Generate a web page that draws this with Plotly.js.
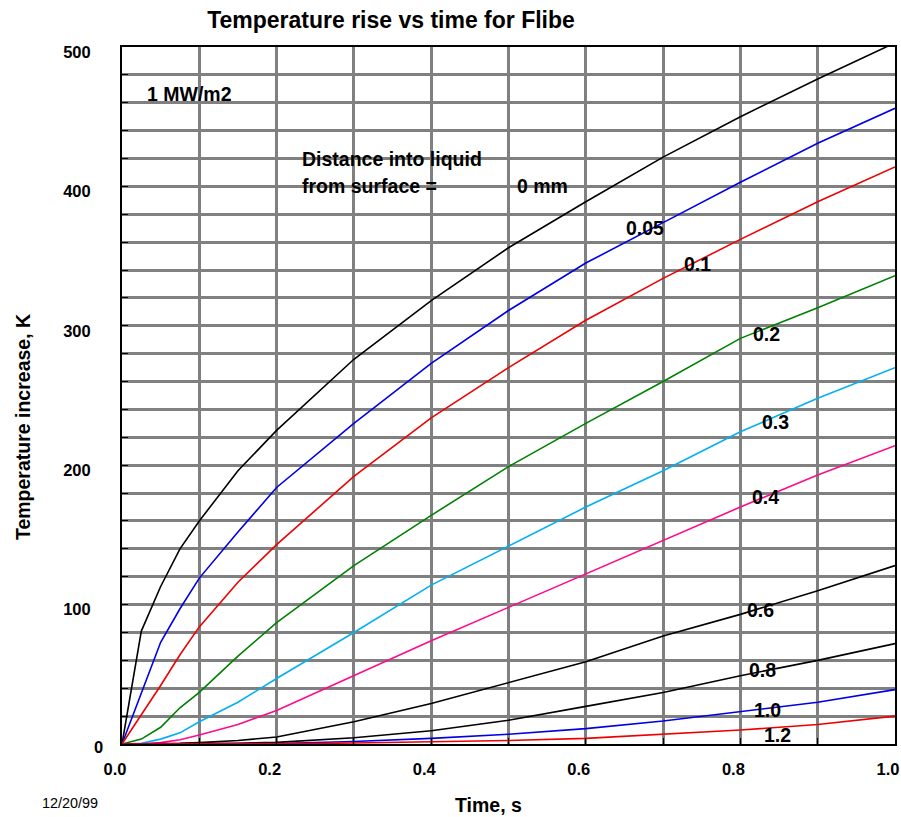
<!DOCTYPE html>
<html>
<head>
<meta charset="utf-8">
<script src="https://cdn.plot.ly/plotly-3.0.1.min.js"></script>
<style>html,body{margin:0;padding:0;background:#fff;}#chart{width:901px;height:817px;}</style>
</head>
<body>
<div id="chart"></div>
<script>
// Time, s
var time = [0, 0.025, 0.05, 0.075, 0.1, 0.15, 0.2, 0.3, 0.4, 0.5, 0.6, 0.7, 0.8, 0.9, 1.0];
// Temperature increase, K, at each distance into liquid
var d0mm   = [0, 81, 113, 140, 160, 196, 225, 276, 318, 356, 389, 421, 450, 477, 503];
var d005mm = [0, 37, 73, 97, 119, 152, 184, 230, 273, 311, 345, 374, 403, 431, 456];
var d01mm  = [0, 21, 42, 64, 84, 116, 143, 192, 234, 270, 304, 334, 362, 389, 414];
var d02mm  = [0, 3.5, 12, 26, 37, 63, 87, 128, 164, 199, 230, 260, 291, 313, 336];
var d03mm  = [0, 0.5, 3.5, 8, 16, 30, 47, 80, 114, 142, 170, 196, 224, 248, 270];
var d04mm  = [0, 0, 1, 3, 6.5, 14, 24, 49, 74, 98, 122, 146, 170, 193, 214];
var d06mm  = [0, 0, 0.2, 0.5, 1, 2.5, 5, 16, 29, 44, 59, 77.5, 93, 110, 128];
var d08mm  = [0, 0, 0, 0, 0.2, 0.5, 1.2, 4.5, 9.5, 17, 27, 37, 49, 60, 72];
var d10mm  = [0, 0, 0, 0, 0, 0.1, 0.4, 1.8, 4, 7, 11, 16.5, 23, 30, 39];
var d12mm  = [0, 0, 0, 0, 0, 0, 0.1, 0.7, 1.5, 2.5, 4, 7, 10, 14, 20];

var seriesNames = ['0 mm', '0.05', '0.1', '0.2', '0.3', '0.4', '0.6', '0.8', '1.0', '1.2'];
var seriesData = [d0mm, d005mm, d01mm, d02mm, d03mm, d04mm, d06mm, d08mm, d10mm, d12mm];
var seriesColors = ['#000000', '#0000e6', '#ee0000', '#008000', '#00b0f0', '#ff0a8c', '#000000', '#000000', '#0000e6', '#ee0000'];

var yTickVals = [100, 200, 300, 400, 500];
var yTickText = ['100', '200', '300', '400', '500'];
var xTickVals = [0, 0.2, 0.4, 0.6, 0.8, 1.0];
var xTickText = ['0.0', '0.2', '0.4', '0.6', '0.8', '1.0'];

// label positions (data coords) for curve labels
var labelX = [0.508, 0.649, 0.724, 0.814, 0.825, 0.812, 0.806, 0.809, 0.815, 0.828];
var labelY = [400, 370, 344, 294, 231, 177, 96, 53, 24.4, 6.5];

var sans = '"Liberation Sans", Arial, sans-serif';
var boldFont = {family: sans, size: 19.5, color: '#000', weight: 'bold'};

var traces = seriesData.map(function (d, i) {
  return {
    x: time, y: d, type: 'scatter', mode: 'lines', name: seriesNames[i],
    line: {color: seriesColors[i], width: 1.6}, hoverinfo: 'x+y'
  };
});

var annotations = seriesNames.map(function (n, i) {
  return {x: labelX[i], y: labelY[i], xref: 'x', yref: 'y', text: n, showarrow: false,
          xanchor: 'left', yanchor: 'middle', font: boldFont};
});
annotations.push({x: 0.030, y: 466, xref: 'x', yref: 'y', text: '1 MW/m2', showarrow: false,
  xanchor: 'left', yanchor: 'middle', font: boldFont});
annotations.push({x: 0.230, y: 420, xref: 'x', yref: 'y', text: 'Distance into liquid', showarrow: false,
  xanchor: 'left', yanchor: 'middle', font: boldFont});
annotations.push({x: 0.230, y: 400, xref: 'x', yref: 'y', text: 'from surface =', showarrow: false,
  xanchor: 'left', yanchor: 'middle', font: boldFont});
annotations.push({x: -0.022, y: 0, xref: 'paper', yref: 'y', text: '0', showarrow: false,
  xanchor: 'right', yanchor: 'middle', yshift: -3, font: {family: sans, size: 16.5, color: '#000', weight: 'bold'}});
annotations.push({x: -0.106, y: -0.0846, xref: 'paper', yref: 'paper', text: '12/20/99', showarrow: false,
  xanchor: 'left', yanchor: 'middle', font: {family: sans, size: 14.4, color: '#000'}});
// axis titles
annotations.push({x: 0.4735, y: -0.0875, xref: 'paper', yref: 'paper', text: 'Time, s', showarrow: false,
  xanchor: 'center', yanchor: 'middle', font: boldFont});
annotations.push({x: -0.128, y: 0.4548, xref: 'paper', yref: 'paper', text: 'Temperature increase, K', showarrow: false,
  textangle: -90, xanchor: 'center', yanchor: 'middle', font: boldFont});

var layout = {
  width: 901, height: 817,
  margin: {l: 122, r: 6, t: 47, b: 73, pad: 0},
  paper_bgcolor: '#fff', plot_bgcolor: '#fff',
  showlegend: false,
  title: {text: 'Temperature rise vs time for Flibe', x: 391 / 901, xanchor: 'center', y: 1 - 20 / 817, yanchor: 'middle',
          font: {family: sans, size: 23, color: '#000', weight: 'bold'}},
  xaxis: {
    range: [0, 1], tickvals: xTickVals, ticktext: xTickText,
    showgrid: true, gridcolor: '#808080', gridwidth: 3,
    minor: {dtick: 0.1, tick0: 0, showgrid: true, gridcolor: '#808080', gridwidth: 3, ticks: 'inside', ticklen: 6, tickcolor: '#000'},
    ticks: 'inside', ticklen: 6, tickcolor: '#000', tickwidth: 1,
    showline: true, linecolor: '#000', linewidth: 2, mirror: true, zeroline: false,
    ticklabelshift: -7, ticklabelstandoff: 9, ticklabeloverflow: 'allow',
    tickfont: {family: sans, size: 16.5, color: '#000', weight: 'bold'}
  },
  yaxis: {
    range: [0, 500], tickvals: yTickVals, ticktext: yTickText,
    showgrid: true, gridcolor: '#808080', gridwidth: 3,
    minor: {dtick: 20, tick0: 0, showgrid: true, gridcolor: '#808080', gridwidth: 3, ticks: 'inside', ticklen: 6, tickcolor: '#000'},
    ticks: 'inside', ticklen: 6, tickcolor: '#000', tickwidth: 1,
    showline: true, linecolor: '#000', linewidth: 2, mirror: true, zeroline: false,
    ticklabelshift: 5, ticklabelstandoff: 26, ticklabeloverflow: 'allow',
    tickfont: {family: sans, size: 16.5, color: '#000', weight: 'bold'}
  },
  annotations: annotations
};

Plotly.newPlot('chart', traces, layout, {displayModeBar: false, staticPlot: true});
</script>
</body>
</html>
